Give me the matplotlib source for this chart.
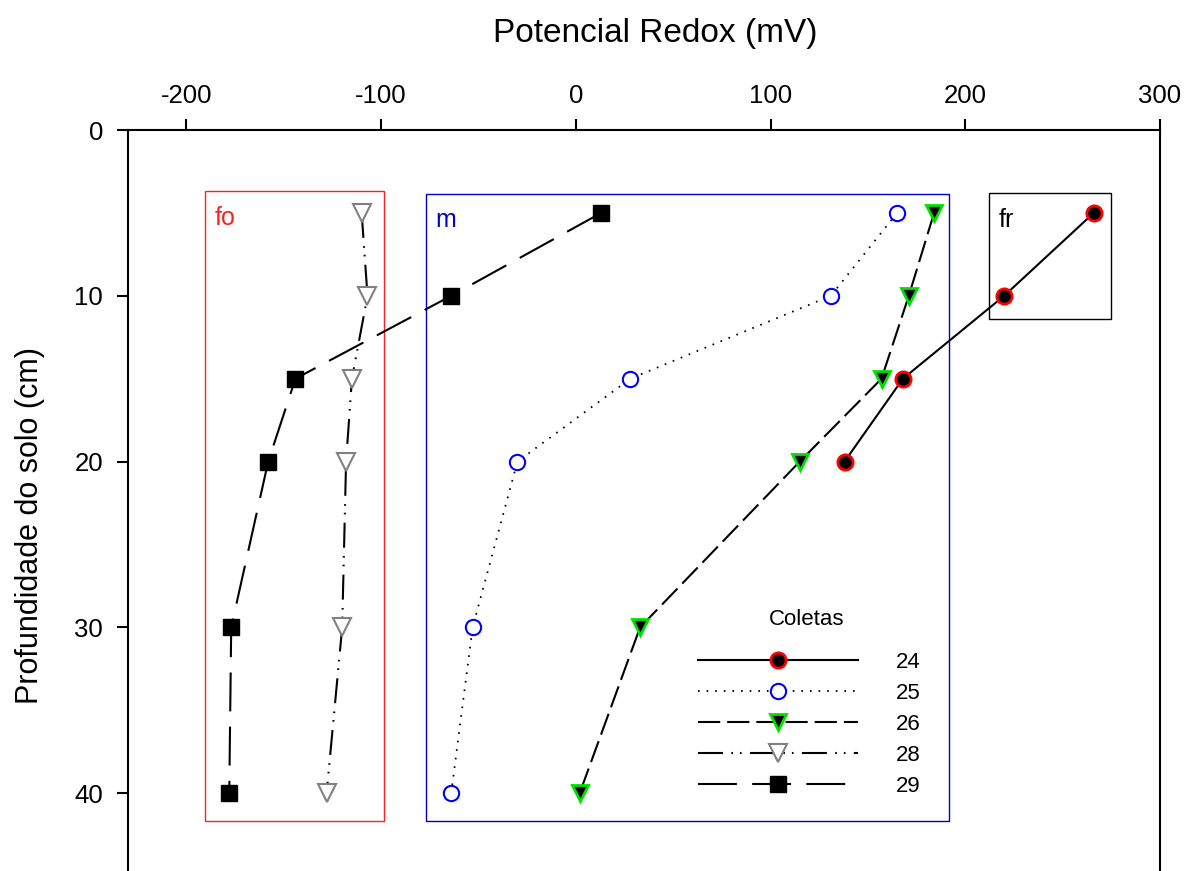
import matplotlib
matplotlib.use("Agg")
import matplotlib.pyplot as plt
from matplotlib.patches import Rectangle

plt.rcParams['font.family'] = ['Liberation Sans', 'DejaVu Sans']
plt.rcParams['lines.scale_dashes'] = False
plt.rcParams['axes.unicode_minus'] = False

depth = [5, 10, 15, 20, 30, 40]
depth24 = [5, 10, 15, 20]
s24 = [266, 220, 168, 138]
s25 = [165, 131, 28, -30, -53, -64]
s26 = [184, 171, 157, 115, 33, 2]
s28 = [-110, -107, -115, -118, -120, -128]
s29 = [13, -64, -144, -158, -177, -178]

x_ticks = [-200, -100, 0, 100, 200, 300]
y_ticks = [0, 10, 20, 30, 40]

# zone boxes: (x0, x1, y0, y1, label, color)
zones = [
    (-190.6, -98.7, 3.7, 41.7, 'fo', '#ff2020'),
    (-77.0, 191.7, 3.85, 41.7, 'm', '#0000cc'),
    (212.0, 275.0, 3.8, 11.4, 'fr', 'black'),
]

fig = plt.figure(figsize=(11.93, 8.71), dpi=100)
ax = fig.add_axes([0.1073, -0.0057, 0.8650, 0.8564])

for x0, x1, y0, y1, lab, col in zones:
    ax.add_patch(Rectangle((x0, y0), x1 - x0, y1 - y0, fill=False,
                           edgecolor=col, lw=1.0, zorder=1))
    ax.text(x0 + 5, y0 + 1.6, lab, color=col, fontsize=18, ha='left', va='center')

ax.plot(s24, depth24, '-', color='black', lw=1.5, marker='o', ms=11,
        mfc='black', mec='red', mew=2, label='24', zorder=3)
ax.plot(s25, depth, color='black', lw=1.3, dashes=(1.2, 5), marker='o', ms=11,
        mfc='white', mec='blue', mew=1.5, label='25', zorder=3)
ax.plot(s26, depth, color='black', lw=1.5, dashes=(16, 5), marker='v', ms=12,
        mfc='black', mec='#00e000', mew=2, label='26', zorder=3)
ax.plot(s28, depth, color='black', lw=1.5, dashes=(18, 6, 1.2, 5, 1.2, 6), marker='v', ms=13,
        mfc='white', mec='gray', mew=1.5, label='28', zorder=3)
ax.plot(s29, depth, color='black', lw=1.5, dashes=(28, 11), marker='s', ms=11,
        mfc='black', mec='black', mew=1, label='29', zorder=3)

ax.set_xlim(-230, 300)
ax.set_ylim(45, 0)
ax.xaxis.tick_top()
ax.xaxis.set_label_position('top')
ax.set_xticks(x_ticks)
ax.set_yticks(y_ticks)
ax.tick_params(axis='both', labelsize=18.5, direction='out', length=8, width=1.5)
ax.tick_params(axis='x', pad=8)
ax.tick_params(axis='y', pad=10)
ax.set_xlabel('Potencial Redox (mV)', fontsize=24)
ax.set_ylabel('Profundidade do solo (cm)', fontsize=22)
ax.xaxis.label.set_va('center')
ax.yaxis.label.set_va('center')
ax.xaxis.set_label_coords(0.5107, 1.130)
ax.yaxis.set_label_coords(-0.095, 0.47)
for sp in ['top', 'left', 'right']:
    ax.spines[sp].set_linewidth(1.5)
ax.spines['bottom'].set_visible(False)

ax.text(0.658, 0.3432, 'Coletas', transform=ax.transAxes, fontsize=16,
        ha='center', va='center')
leg = ax.legend(frameon=False, fontsize=16,
                handlelength=7.2, handletextpad=1.7, labelspacing=0.45,
                borderpad=0, borderaxespad=0,
                loc='upper left', bbox_to_anchor=(0.552, 0.3007))
fig.savefig('out.png', dpi=100)
